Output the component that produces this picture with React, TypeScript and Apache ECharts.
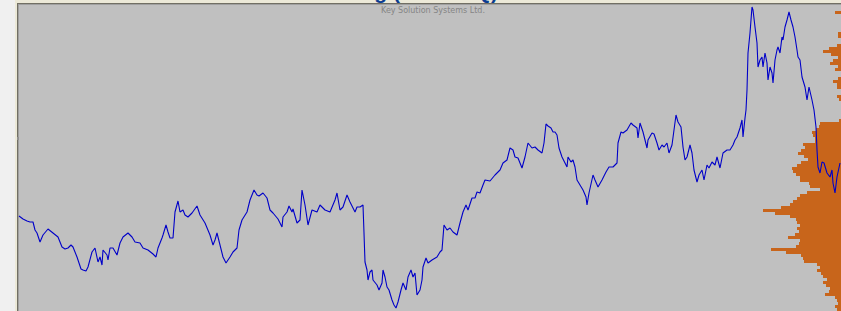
import React, { useEffect, useRef } from "react";
import * as echarts from "echarts";

// Daily closing prices: [trading day index, close]
const priceHistory: [number, number][] = [
  [0, 14.5], [4, 14.2], [8, 14.0], [11, 13.9], [14, 13.9], [16, 13.1], [18, 12.8], [21, 11.9], [24, 12.6], [29, 13.2],
  [34, 12.8], [39, 12.4], [43, 11.4], [46, 11.2], [49, 11.3], [52, 11.6], [54, 11.4], [58, 10.4], [62, 9.2], [64, 9.1],
  [67, 9.0], [69, 9.4], [73, 10.9], [76, 11.3], [79, 9.9], [81, 10.4], [83, 9.6], [84, 11.1], [88, 10.6], [89, 10.1],
  [91, 11.3], [94, 11.3], [98, 10.6], [101, 11.8], [104, 12.4], [109, 12.8], [113, 12.4], [116, 11.9], [121, 11.8], [124, 11.3],
  [129, 11.1], [134, 10.7], [137, 10.4], [139, 11.3], [143, 12.3], [144, 12.6], [147, 13.6], [149, 12.9], [151, 12.3], [154, 12.3],
  [156, 14.9], [159, 16.0], [161, 14.9], [164, 15.1], [166, 14.6], [169, 14.4], [173, 14.8], [178, 15.5], [181, 14.6], [186, 13.8],
  [191, 12.6], [194, 11.6], [196, 12.1], [198, 12.8], [201, 11.6], [204, 10.4], [207, 9.8], [211, 10.4], [214, 10.9], [218, 11.3],
  [220, 13.1], [223, 14.1], [228, 14.9], [231, 16.1], [235, 17.1], [238, 16.6], [240, 16.5], [244, 16.8], [248, 16.3], [251, 15.1],
  [254, 14.8], [259, 14.2], [263, 13.4], [264, 14.4], [268, 14.9], [270, 15.5], [273, 14.9], [274, 15.2], [278, 13.8], [281, 14.1],
  [283, 17.1], [286, 15.6], [289, 13.6], [293, 15.1], [298, 14.9], [301, 15.6], [306, 15.1], [311, 14.9], [316, 16.1], [318, 16.8],
  [321, 15.1], [324, 15.4], [328, 16.6], [331, 15.9], [334, 15.3], [336, 14.9], [338, 15.4], [341, 15.4], [344, 15.6], [345, 12.8],
  [346, 9.9], [348, 9.1], [349, 8.1], [351, 8.9], [353, 9.1], [354, 8.1], [358, 7.6], [360, 7.1], [363, 7.8], [364, 9.1],
  [366, 8.4], [368, 7.4], [370, 7.1], [373, 6.1], [375, 5.6], [377, 5.3], [379, 5.9], [382, 7.1], [384, 7.8], [387, 7.1],
  [389, 8.4], [392, 9.1], [394, 8.4], [396, 8.8], [398, 6.6], [401, 7.1], [403, 8.1], [404, 9.4], [407, 10.3], [409, 9.8],
  [413, 10.1], [418, 10.4], [421, 10.9], [423, 11.1], [425, 13.6], [428, 13.1], [431, 13.3], [434, 12.9], [438, 12.6], [441, 13.8],
  [444, 14.9], [447, 15.6], [449, 15.1], [453, 16.3], [456, 16.3], [458, 16.9], [461, 16.8], [464, 17.6], [466, 18.1], [471, 18.0],
  [476, 18.6], [481, 19.1], [484, 19.8], [488, 20.1], [491, 21.3], [494, 21.1], [496, 20.4], [499, 20.3], [503, 19.3], [506, 20.4],
  [509, 21.8], [513, 21.3], [516, 21.4], [519, 21.1], [523, 20.8], [525, 21.8], [527, 23.7], [529, 23.5], [532, 23.3], [534, 22.9],
  [536, 22.9], [538, 22.6], [540, 21.3], [543, 20.4], [546, 19.8], [548, 19.4], [549, 20.4], [552, 19.9], [554, 20.1], [556, 19.4],
  [558, 18.1], [561, 17.6], [564, 17.1], [567, 16.4], [568, 15.6], [570, 16.8], [574, 18.6], [576, 18.1], [579, 17.4], [583, 18.1],
  [587, 18.9], [590, 19.4], [594, 19.4], [598, 19.8], [599, 21.8], [602, 22.9], [604, 22.8], [608, 23.1], [612, 23.8], [614, 23.6],
  [618, 23.3], [619, 22.3], [621, 23.8], [624, 22.9], [628, 21.3], [629, 22.1], [633, 22.8], [635, 22.7], [638, 21.8], [640, 21.1],
  [643, 21.6], [645, 21.4], [648, 21.8], [650, 20.8], [653, 21.6], [655, 23.1], [657, 24.6], [659, 23.9], [662, 23.4], [664, 21.4],
  [666, 20.1], [668, 20.4], [671, 21.6], [673, 20.8], [675, 19.1], [678, 17.9], [680, 18.6], [683, 19.1], [685, 18.1], [688, 19.6],
  [690, 19.3], [693, 19.9], [696, 19.6], [698, 20.4], [701, 19.3], [704, 20.8], [708, 21.1], [711, 21.1], [714, 21.6], [716, 22.1],
  [718, 22.4], [721, 23.3], [723, 24.1], [724, 22.4], [726, 24.3], [727, 25.1], [728, 27.1], [729, 30.8], [731, 32.8], [733, 35.4],
  [734, 35.1], [736, 33.4], [738, 31.8], [739, 29.4], [741, 30.1], [743, 30.4], [744, 29.4], [746, 30.8], [748, 29.8], [749, 28.1],
  [751, 29.4], [753, 28.8], [754, 27.8], [756, 30.1], [758, 31.1], [759, 31.4], [761, 30.8], [763, 32.4], [764, 32.1], [766, 33.4],
  [768, 34.1], [770, 34.9], [772, 34.1], [774, 33.4], [776, 32.4], [778, 31.1], [779, 30.4], [781, 30.1], [783, 28.4], [786, 27.4],
  [788, 26.1], [790, 27.4], [793, 26.1], [795, 25.1], [797, 23.4], [798, 21.1], [799, 19.4], [801, 18.8], [803, 19.9], [805, 19.8],
  [808, 18.8], [811, 18.4], [813, 19.1], [814, 17.8], [816, 16.8], [818, 18.4], [821, 19.8],
];

// Volume-at-price profile: bins of 0.3 starting from the top price level downwards
const profileTopLevel = 35.45;
const profileBinSize = 0.3;
const profileVolumes: number[] = [
  0, 0, 60, 0, 0, 0, 0, 0, 0, 30,
  30, 0, 0, 40, 120, 180, 100, 30, 80, 110,
  30, 60, 0, 0, 30, 80, 40, 40, 0, 0,
  40, 20, 0, 0, 0, 0, 0, 0, 20, 210,
  220, 250, 290, 280, 260, 260, 380, 360, 400, 430,
  370, 330, 400, 440, 490, 480, 450, 410, 410, 320,
  310, 210, 340, 410, 440, 480, 510, 600, 780, 660,
  510, 450, 440, 410, 440, 420, 460, 530, 410, 420,
  450, 700, 550, 400, 380, 370, 240, 210, 240, 200,
  180, 140, 180, 150, 110, 120, 160, 60, 40, 30,
  60, 40,
];

const priceMin = 5.0;
const priceMax = 35.6;
const dayMax = 822;

export default function App() {
  const ref = useRef<HTMLDivElement>(null);

  useEffect(() => {
    if (!ref.current) return;
    const chart = echarts.init(ref.current, null, { renderer: "svg" });

    const profileData = profileVolumes.map((v, i) => [
      +(profileTopLevel - i * profileBinSize).toFixed(2),
      v,
    ]);

    chart.setOption({
      animation: false,
      backgroundColor: "#f0f0f0",
      grid: [
        {
          left: 19,
          top: 5,
          right: 0,
          bottom: 0,
          show: true,
          backgroundColor: "#c0c0c0",
          borderWidth: 0,
        },
        {
          left: 741,
          top: 5,
          right: 0,
          bottom: 0,
          show: false,
        },
      ],
      xAxis: [
        { type: "value", gridIndex: 0, min: 0, max: dayMax, show: false },
        { type: "value", gridIndex: 1, min: 0, max: 1000, inverse: true, show: false },
      ],
      yAxis: [
        { type: "value", gridIndex: 0, min: priceMin, max: priceMax, show: false },
        { type: "value", gridIndex: 1, min: priceMin, max: priceMax, show: false },
      ],
      graphic: [
        { type: "rect", shape: { x: 15, y: 0, width: 826, height: 3 }, style: { fill: "#ece9d8" }, silent: true },
        { type: "rect", shape: { x: 15, y: 0, width: 2, height: 311 }, style: { fill: "#ece9d8" }, silent: true },
        { type: "rect", shape: { x: 17, y: 3, width: 824, height: 1 }, style: { fill: "#716f64" }, silent: true },
        { type: "rect", shape: { x: 17, y: 3, width: 1, height: 308 }, style: { fill: "#716f64" }, silent: true },
        { type: "rect", shape: { x: 18, y: 4, width: 823, height: 1 }, style: { fill: "#a0a0a0" }, silent: true },
        { type: "rect", shape: { x: 18, y: 4, width: 1, height: 307 }, style: { fill: "#a0a0a0" }, silent: true },
        { type: "rect", shape: { x: 17, y: 137, width: 2, height: 3 }, style: { fill: "#909090" }, silent: true },
        {
          type: "text",
          x: 498,
          y: -9,
          z: 10,
          silent: true,
          style: {
            text: "Market Profile Trading (NASDAQ)",
            fill: "#0a3c91",
            font: "bold 21px Arial, 'Liberation Sans', sans-serif",
            textAlign: "right",
            textVerticalAlign: "middle",
          },
        },
        {
          type: "text",
          x: 433,
          y: 10,
          silent: true,
          style: {
            text: "Key Solution Systems Ltd.",
            fill: "#858585",
            font: "8px Tahoma, 'DejaVu Sans', sans-serif",
            textAlign: "center",
            textVerticalAlign: "middle",
          },
        },
      ],
      series: [
        {
          type: "custom",
          xAxisIndex: 1,
          yAxisIndex: 1,
          silent: true,
          z: 1,
          data: profileData,
          renderItem: (params: any, api: any) => {
            const level = api.value(0);
            const vol = api.value(1);
            if (!vol) return null;
            const a = api.coord([vol, level + profileBinSize / 2]);
            const b = api.coord([0, level - profileBinSize / 2]);
            return {
              type: "rect",
              shape: { x: a[0], y: a[1], width: b[0] - a[0] + 2, height: b[1] - a[1] },
              style: { fill: "#c8651b" },
            };
          },
          encode: { x: 1, y: 0 },
        },
        {
          type: "line",
          xAxisIndex: 0,
          yAxisIndex: 0,
          data: priceHistory,
          showSymbol: false,
          symbol: "none",
          silent: true,
          z: 3,
          lineStyle: { color: "#0000c8", width: 1.1 },
        },
      ],
    });

    return () => chart.dispose();
  }, []);

  return (
    <div
      ref={ref}
      style={{ position: "fixed", left: 0, top: 0, width: 841, height: 311 }}
    />
  );
}
